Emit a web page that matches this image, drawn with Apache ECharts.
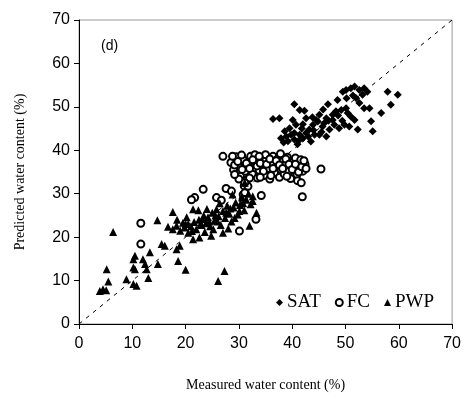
<!DOCTYPE html>
<html>
<head>
<meta charset="utf-8">
<script src="https://cdn.jsdelivr.net/npm/echarts@6/dist/echarts.min.js"></script>
<style>
html, body { margin: 0; padding: 0; background: #fff; }
#chart { width: 464px; height: 397px; }
</style>
</head>
<body>
<div id="chart"></div>
<script>
// measured vs predicted water content (%)
var satData = [
    [40.4,50.6],[41.4,49.3],[42.3,49.1],[37.6,47.4],[36.4,47.2],[46.7,50.6],
    [48.5,51.6],[49.5,53.5],[50.1,53.9],[51.0,54.3],[51.7,54.7],
    [52.6,53.9],[53.5,54.3],[54.1,53.5],[53.2,52.8],[57.9,53.5],[59.8,52.8],
    [58.5,50.5],[56.7,48.6],[54.8,46.7],[55.1,44.4],[52.3,44.8],
    [52.6,50.9],[53.5,49.7],[54.5,49.7],[51.0,47.8],[51.7,47.0],
    [49.8,45.9],[50.7,45.5],[49.2,49.3],[48.2,49.0],[47.6,48.2],
    [46.4,47.4],[45.1,48.2],[44.5,47.0],[43.9,45.9],[43.2,44.8],[44.2,43.6],
    [45.7,45.5],[47.0,44.8],[47.9,45.9],[48.8,45.1],[45.1,43.6],[46.4,43.2],
    [42.6,47.4],[40.1,47.0],[40.7,45.9],[39.5,45.1],[38.6,44.4],[38.9,43.2],
    [40.4,44.0],[41.4,43.6],[42.0,42.8],[42.6,44.0],[37.9,42.8],[39.2,42.1],
    [40.4,42.5],[50.1,49.7],[52.0,52.0],[43.5,42.0],[41.0,41.4],[44.8,46.6],
    [42.0,46.0],[46.0,46.2],[39.8,43.6],[41.8,45.0],[43.0,43.2],[44.0,44.6],
    [45.5,44.2],[46.8,46.8],[47.6,47.0],[48.6,48.0],[49.4,46.8],[50.4,48.6],
    [38.4,41.8],[41.2,42.2],[43.8,47.6],[45.8,49.4],[51.4,52.6],[50.2,52.0]
];
var fcData = [
    [28.5,37.2],[29.0,35.5],[29.5,38.5],[30.0,36.4],[30.3,34.0],[30.8,37.8],
    [31.2,35.2],[31.5,33.2],[31.8,36.8],[32.2,38.6],[32.5,34.6],[32.9,36.0],
    [33.2,37.5],[33.5,33.6],[33.8,35.4],[34.2,38.2],[34.5,36.6],[34.8,34.2],
    [35.1,37.9],[35.4,35.8],[35.8,33.4],[36.1,37.0],[36.4,38.6],[36.7,34.8],
    [37.0,36.2],[37.3,38.0],[37.6,33.8],[37.9,35.5],[38.2,37.4],[38.5,34.5],
    [38.8,36.8],[39.1,38.4],[39.4,35.2],[39.7,33.5],[40.0,37.2],[40.3,35.8],
    [40.6,38.2],[40.9,34.4],[41.2,36.5],[41.6,37.8],[42.0,35.2],[42.4,36.8],
    [41.0,33.0],[35.0,39.0],[37.8,39.2],[33.0,39.0],[30.5,38.9],[31.0,31.8],
    [29.2,36.6],[29.8,37.4],[30.6,35.6],[31.4,37.0],[32.0,35.8],[32.6,37.8],
    [33.4,36.4],[34.0,37.0],[34.6,35.2],[35.2,36.8],[35.8,38.0],[36.4,35.8],
    [37.0,37.6],[37.6,36.6],[38.2,35.8],[38.8,38.0],[39.4,36.8],[40.0,35.6],
    [40.6,36.8],[41.2,35.0],[41.8,36.2],[42.6,35.8],[36.0,34.2],[34.0,33.8],
    [32.0,33.6],[30.0,33.4],[39.0,34.0],[42.2,37.6],[28.8,38.6],[33.8,38.6],
    [45.4,35.7],[41.7,32.5],[41.9,29.3],[34.2,29.6],[33.2,24.1],[30.1,21.4],
    [27.0,38.6],[29.2,34.4],[23.3,31.0],[27.6,31.2],[28.6,30.6],[21.7,29.1],
    [25.8,29.1],[26.7,28.5],[30.8,29.8],[31.7,31.7],[31.1,32.5],[21.1,28.6],
    [31.1,30.2],[30.8,28.7],[11.6,23.2],[11.6,18.4]
];
var pwpData = [
    [6.4,21.2],[5.2,12.6],[5.5,9.8],[3.9,7.6],[5.1,7.8],[4.5,8.0],
    [14.7,23.9],[17.6,25.8],[15.5,18.4],[16.1,18.0],[13.3,16.5],[10.5,15.7],
    [10.2,14.9],[12.0,14.9],[12.4,13.8],[10.2,13.0],[10.5,12.6],[12.7,12.6],
    [14.8,13.8],[8.9,10.3],[10.2,9.2],[10.8,8.8],[13.0,10.6],[18.3,17.2],
    [18.9,18.0],[18.6,14.5],[20.0,12.5],[17.6,21.8],[18.3,22.6],[19.5,23.3],
    [20.5,23.0],[21.4,19.5],[27.3,12.2],[26.1,9.9],[21.4,26.4],[24.8,20.3],
    [22.6,19.9],[32.0,22.6],[33.3,25.6],[32.6,28.3],[30.1,26.0],[31.1,32.5],
    [19.0,21.5],[19.8,22.2],[20.5,21.0],[21.0,22.5],[21.6,23.5],[22.0,21.8],
    [22.5,24.0],[23.0,22.8],[23.4,25.0],[23.8,23.2],[24.2,24.6],[24.6,22.5],
    [25.0,25.6],[25.4,23.8],[25.8,26.4],[26.2,24.8],[26.6,22.8],[27.0,26.0],
    [27.4,24.4],[27.8,27.2],[28.2,25.4],[28.6,23.6],[29.0,26.8],[29.4,28.0],
    [29.8,25.2],[30.2,27.4],[30.6,29.2],[31.0,26.2],[31.4,28.6],[31.8,30.0],
    [32.2,27.6],[23.6,21.2],[25.2,21.8],[27.0,21.0],[28.0,22.0],[24.0,26.5],
    [26.4,27.8],[28.8,29.8],[22.4,26.2],[20.2,24.6],[18.4,24.0],[16.7,22.4],
    [22.8,23.0],[24.4,23.6],[26.0,23.6],[27.6,25.6],[29.2,24.4],[30.8,27.8],
    [25.6,25.0],[23.2,24.2],[21.2,21.4],[20.0,23.0],[28.4,26.6],[32.6,29.4]
];
var oneToOne = [[0,0],[70,70]];
var axisMin = 0, axisMax = 70, axisStep = 10;

var chart = echarts.init(document.getElementById('chart'));

var option = {
    animation: false,
    backgroundColor: '#fff',
    grid: { left: 79, right: 11, top: 20, bottom: 72, show: true, borderColor: '#999', borderWidth: 1 },
    legend: {
        left: 271, top: 288, itemGap: 14, itemWidth: 7, itemHeight: 7,
        textStyle: { fontFamily: '"Liberation Serif", serif', fontSize: 19, color: '#000', padding: [0, 0, 0, -1] },
        data: [
            { name: 'SAT', icon: 'diamond' },
            { name: 'FC', icon: 'circle' },
            { name: 'PWP', icon: 'triangle' }
        ]
    },
    xAxis: {
        type: 'value', min: axisMin, max: axisMax, interval: axisStep,
        name: 'Measured water content (%)', nameLocation: 'middle', nameGap: 54,
        nameTextStyle: { fontFamily: '"Liberation Serif", serif', fontSize: 14, color: '#000' },
        axisLine: { lineStyle: { color: '#000', width: 1 } },
        axisTick: { inside: false, length: 5, lineStyle: { color: '#000' } },
        axisLabel: { fontFamily: '"Liberation Sans", Arial, sans-serif', fontSize: 16, color: '#000', margin: 12 },
        splitLine: { show: false }
    },
    yAxis: {
        type: 'value', min: axisMin, max: axisMax, interval: axisStep,
        name: 'Predicted water content (%)', nameLocation: 'middle', nameGap: 52, nameRotate: 90,
        nameTextStyle: { fontFamily: '"Liberation Serif", serif', fontSize: 14, color: '#000' },
        axisLine: { lineStyle: { color: '#000', width: 1 } },
        axisTick: { inside: false, length: 5, lineStyle: { color: '#000' } },
        axisLabel: { fontFamily: '"Liberation Sans", Arial, sans-serif', fontSize: 16, color: '#000', margin: 9 },
        splitLine: { show: false }
    },
    graphic: [
        { type: 'text', left: 101, top: 39, style: { text: '(d)', font: '14px "Liberation Sans", Arial, sans-serif', fill: '#000' } }
    ],
    series: [
        {
            type: 'line', data: oneToOne, symbol: 'none', silent: true, z: 1,
            lineStyle: { color: '#000', width: 1, type: [4, 5] }
        },
        {
            name: 'FC', type: 'scatter', data: fcData, symbol: 'circle', symbolSize: 7, z: 3,
            itemStyle: { color: '#fff', borderColor: '#000', borderWidth: 2, opacity: 1 }
        },
        {
            name: 'PWP', type: 'scatter', data: pwpData, symbol: 'triangle', symbolSize: 8, z: 4,
            itemStyle: { color: '#000', opacity: 1 }
        },
        {
            name: 'SAT', type: 'scatter', data: satData, symbol: 'diamond', symbolSize: 8, z: 5,
            itemStyle: { color: '#000', opacity: 1 }
        }
    ]
};

chart.setOption(option);
</script>
</body>
</html>
